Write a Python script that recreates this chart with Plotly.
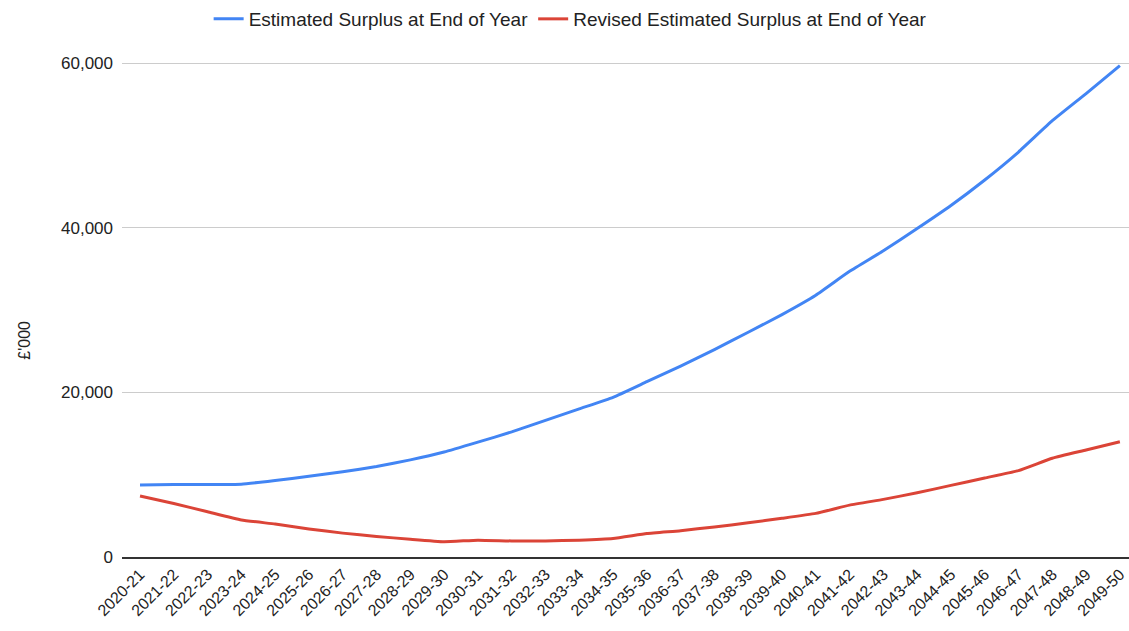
import plotly.graph_objects as go

years = ["2020-21","2021-22","2022-23","2023-24","2024-25","2025-26","2026-27","2027-28","2028-29","2029-30",
         "2030-31","2031-32","2032-33","2033-34","2034-35","2035-36","2036-37","2037-38","2038-39","2039-40",
         "2040-41","2041-42","2042-43","2043-44","2044-45","2045-46","2046-47","2047-48","2048-49","2049-50"]

estimated = [8750, 8800, 8800, 8850, 9300, 9800, 10350, 11000, 11800, 12750,
             13950, 15200, 16600, 18000, 19400, 21300, 23200, 25200, 27300, 29450,
             31800, 34700, 37200, 39900, 42700, 45800, 49200, 53000, 56300, 59700]

revised = [7400, 6500, 5500, 4500, 4000, 3400, 2900, 2500, 2150, 1850,
           2050, 1950, 1950, 2050, 2250, 2850, 3200, 3650, 4150, 4700,
           5300, 6300, 7000, 7800, 8700, 9600, 10500, 12000, 13000, 14000]

y_ticks = [0, 20000, 40000, 60000]
y_title = "£'000"

FONT = "Arial, Liberation Sans, sans-serif"

fig = go.Figure()
fig.add_trace(go.Scatter(x=years, y=estimated, mode="lines", name="Estimated Surplus at End of Year",
                         line=dict(color="#4285F4", width=3, shape="spline", smoothing=0.4)))
fig.add_trace(go.Scatter(x=years, y=revised, mode="lines", name="Revised Estimated Surplus at End of Year",
                         line=dict(color="#DB4437", width=3, shape="spline", smoothing=0.4)))

fig.update_layout(
    width=1129, height=631,
    margin=dict(l=122, r=0, t=59, b=74),
    paper_bgcolor="white", plot_bgcolor="white",
    font=dict(family=FONT, color="#222222", size=16),
    showlegend=True,
    legend=dict(orientation="h", x=0.505, xanchor="center", xref="container", y=1.0, yanchor="top",
                yref="container", font=dict(size=19, color="#222222"), itemwidth=30),
    xaxis=dict(type="category", range=[-0.533, 29.27], tickangle=-45, showgrid=False,
               showline=True, linecolor="#333333", linewidth=1.5, ticks="",
               tickfont=dict(size=16, color="#222222")),
    yaxis=dict(range=[0, 60500], tickvals=y_ticks, tickformat=",", showgrid=True, gridcolor="#cccccc",
               gridwidth=1, zeroline=False, showline=False, ticks="", ticklabelstandoff=8,
               tickfont=dict(size=17, color="#222222")),
    annotations=[dict(text=y_title, textangle=-90, xref="paper", x=-0.0965, xanchor="center",
                      yref="paper", y=0.436, yanchor="middle", showarrow=False,
                      font=dict(size=16, color="#222222"))],
)

fig.write_html("out.html")
